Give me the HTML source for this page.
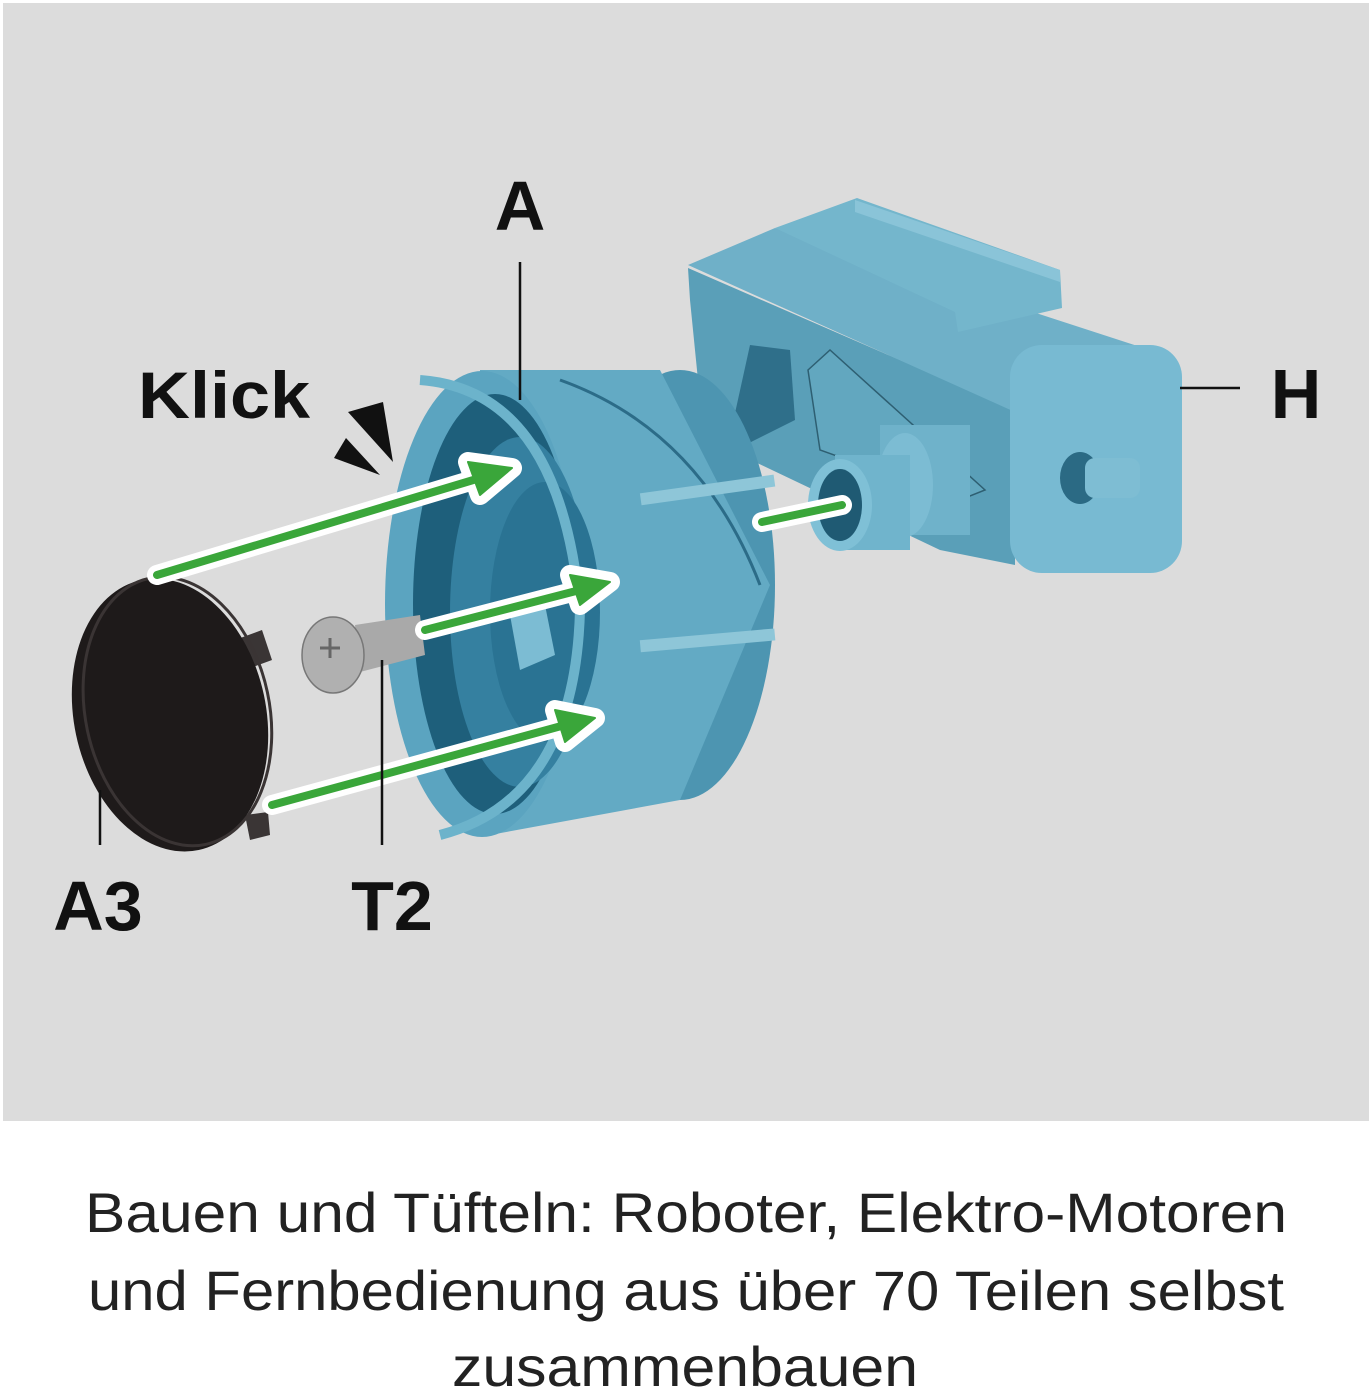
<!DOCTYPE html>
<html><head><meta charset="utf-8"><style>
html,body{margin:0;padding:0;background:#fff;}
svg{display:block;}
</style></head><body>
<svg width="1372" height="1395" viewBox="0 0 1372 1395" xmlns="http://www.w3.org/2000/svg">
<rect x="0" y="0" width="1372" height="1395" fill="#ffffff"/>
<rect x="3" y="3" width="1366" height="1118" fill="#dcdcdc"/>

<!-- Housing H -->
<g>
  <polygon points="688,268 1015,410 1015,565 940,550 730,450 705,428 700,400 690,300" fill="#5a9fb8"/>
  <polygon points="688,265 775,228 1165,355 1170,380 1015,412" fill="#6fb0c8"/>
  <polygon points="775,228 857,198 1060,270 1062,308 958,332 955,312" fill="#74b6cc"/>
  <polygon points="855,200 1060,270 1060,282 855,212" fill="#8ac4d8"/>
  <rect x="1010" y="345" width="172" height="228" rx="32" fill="#78bad2"/>
  <path d="M750,345 L790,350 L795,420 L745,445 L728,445 Z" fill="#2f6f8a"/>
  <ellipse cx="707" cy="405" rx="12" ry="14" fill="#2c6a85"/>
  <polygon points="808,370 830,350 985,490 960,500 820,450" fill="#62a7bf" stroke="#2e5f72" stroke-width="1.5"/>
  <rect x="880" y="425" width="90" height="110" fill="#6fb2ca"/>
  <ellipse cx="905" cy="485" rx="28" ry="52" fill="#7cbcd3"/>
  <rect x="835" y="455" width="75" height="95" fill="#70b4cc"/>
  <ellipse cx="840" cy="505" rx="32" ry="46" fill="#7fc0d6"/>
  <ellipse cx="840" cy="505" rx="22" ry="36" fill="#1f5a73"/>
  <ellipse cx="1080" cy="478" rx="20" ry="26" fill="#2b6a84"/>
  <rect x="1085" y="458" width="55" height="40" rx="10" fill="#7ebdd3"/>
</g>

<!-- Ring A -->
<g>
  <ellipse cx="680" cy="585" rx="95" ry="215" fill="#4d95b1"/>
  <polygon points="480,370 660,370 770,585 680,800 490,835 480,835" fill="#63aac4"/>
  <path d="M560,380 Q700,430 760,585" stroke="#2c6c88" stroke-width="3" fill="none"/>
  <rect x="640" y="485" width="135" height="12" fill="#8ec6d8" transform="rotate(-8 700 490)"/>
  <rect x="640" y="635" width="135" height="12" fill="#8ec6d8" transform="rotate(-5 700 640)"/>
  <ellipse cx="482" cy="604" rx="97" ry="233" fill="#5ba4c0"/>
  <ellipse cx="495" cy="604" rx="82" ry="210" fill="#1e5f7b"/>
  <ellipse cx="520" cy="612" rx="70" ry="175" fill="#3580a0"/>
  <ellipse cx="545" cy="612" rx="55" ry="130" fill="#2a7393"/>
  <polygon points="510,615 545,605 555,655 520,670" fill="#7cbcd3"/>
  <path d="M420,380 Q560,390 580,610 Q575,800 440,835" stroke="#6cb3cb" stroke-width="10" fill="none"/>
</g>

<!-- Cap A3 -->
<g>
  <polygon points="235,640 262,630 272,660 245,670" fill="#3a3535"/>
  <polygon points="245,815 268,812 270,835 250,840" fill="#3a3535"/>
  <ellipse cx="170" cy="715" rx="96" ry="138" fill="#1e1a1a" transform="rotate(-12 170 715)"/>
  <ellipse cx="178" cy="713" rx="92" ry="136" fill="none" stroke="#3a3434" stroke-width="3" transform="rotate(-12 170 715)"/>
</g>

<!-- Screw T2 -->
<g>
  <polygon points="355,625 420,615 425,655 360,672" fill="#a9a9a9"/>
  <ellipse cx="333" cy="655" rx="31" ry="38" fill="#b0b0b0" stroke="#777" stroke-width="1.5"/>
  <path d="M320,648 h20 M330,638 v20" stroke="#666" stroke-width="3"/>
</g>

<!-- green arrows -->
<g stroke-linecap="round" stroke-linejoin="round">
  <g stroke="#ffffff" stroke-width="20" fill="#ffffff">
    <line x1="157" y1="575" x2="480" y2="478"/>
    <polygon points="468,462 512,468 480,495"/>
    <line x1="425" y1="630" x2="580" y2="590"/>
    <polygon points="570,575 610,582 580,605"/>
    <line x1="272" y1="805" x2="565" y2="725"/>
    <polygon points="555,710 595,718 565,742"/>
    <line x1="762" y1="522" x2="842" y2="505"/>
  </g>
  <g stroke="#3aa63a" stroke-width="8" fill="#3aa63a">
    <line x1="157" y1="575" x2="480" y2="478"/>
    <polygon points="468,462 512,468 480,495" stroke-width="2"/>
    <line x1="425" y1="630" x2="580" y2="590"/>
    <polygon points="570,575 610,582 580,605" stroke-width="2"/>
    <line x1="272" y1="805" x2="565" y2="725"/>
    <polygon points="555,710 595,718 565,742" stroke-width="2"/>
    <line x1="762" y1="522" x2="842" y2="505"/>
  </g>
</g>

<!-- Klick marks -->
<polygon points="348,412 383,402 393,462" fill="#111"/>
<polygon points="334,458 346,438 380,475" fill="#111"/>

<!-- leader lines -->
<g stroke="#111" stroke-width="2.5">
  <line x1="520" y1="262" x2="520" y2="400"/>
  <line x1="1180" y1="388" x2="1240" y2="388"/>
  <line x1="100" y1="790" x2="100" y2="845"/>
  <line x1="382" y1="660" x2="382" y2="845"/>
</g>

<!-- labels -->
<g font-family="Liberation Sans, sans-serif" font-weight="bold" fill="#111">
  <text x="520" y="230" font-size="70" text-anchor="middle">A</text>
  <text x="138" y="418" font-size="66" textLength="172" lengthAdjust="spacingAndGlyphs">Klick</text>
  <text x="1296" y="418" font-size="70" text-anchor="middle">H</text>
  <text x="98" y="930" font-size="70" text-anchor="middle">A3</text>
  <text x="392" y="930" font-size="70" text-anchor="middle">T2</text>
</g>

<!-- caption -->
<g font-family="Liberation Sans, sans-serif" font-size="56" fill="#222">
  <text x="85" y="1232" textLength="1202" lengthAdjust="spacingAndGlyphs">Bauen und Tüfteln: Roboter, Elektro-Motoren</text>
  <text x="88" y="1310" textLength="1196" lengthAdjust="spacingAndGlyphs">und Fernbedienung aus über 70 Teilen selbst</text>
  <text x="452" y="1386" textLength="466" lengthAdjust="spacingAndGlyphs">zusammenbauen</text>
</g>
</svg>
</body></html>
